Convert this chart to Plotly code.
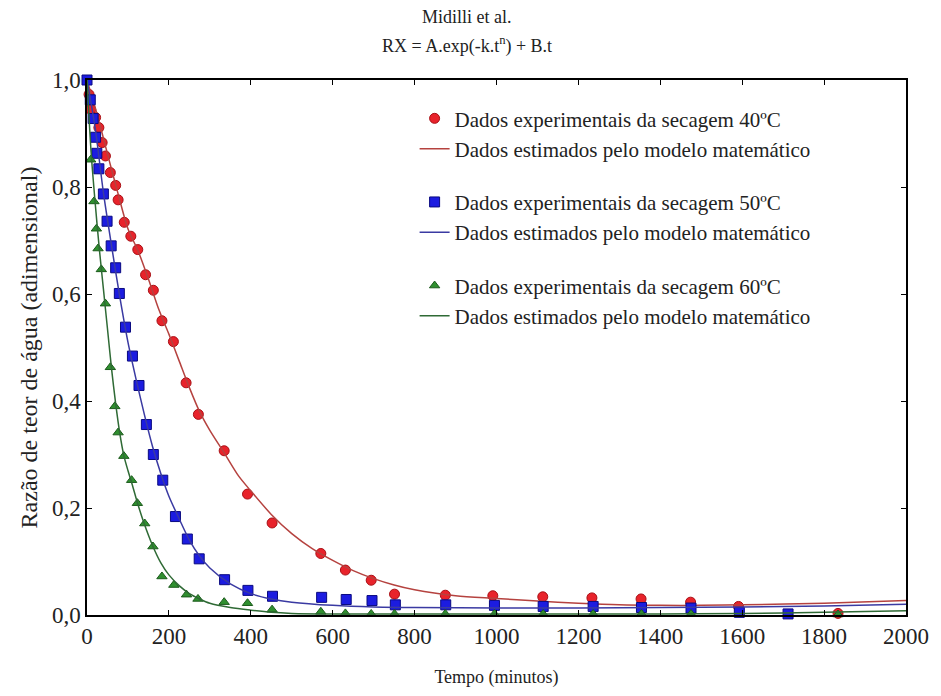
import plotly.graph_objects as go

t40 = [5, 9, 21, 29, 37, 45, 57, 70, 76, 91, 107, 124, 143, 162, 183, 211, 242, 272, 335, 392, 452,
       571, 631, 694, 751, 875, 991, 1113, 1233, 1353, 1474, 1591, 1834]
rx40 = [0.973, 0.945, 0.930, 0.911, 0.883, 0.858, 0.827, 0.803, 0.776, 0.734, 0.708, 0.683, 0.636, 0.607,
        0.550, 0.511, 0.434, 0.375, 0.307, 0.226, 0.172, 0.115, 0.084, 0.065, 0.039, 0.037, 0.036,
        0.034, 0.032, 0.030, 0.024, 0.016, 0.003]

t50 = [0, 8, 15, 21, 24, 29, 40, 49, 59, 70, 79, 94, 111, 127, 145, 162, 185, 216, 245, 274, 336, 393,
       453, 573, 633, 696, 753, 876, 995, 1114, 1236, 1354, 1475, 1593, 1712]
rx50 = [1.0, 0.963, 0.928, 0.893, 0.863, 0.834, 0.787, 0.736, 0.690, 0.649, 0.601, 0.538, 0.484, 0.429,
        0.356, 0.300, 0.252, 0.184, 0.142, 0.105, 0.066, 0.046, 0.035, 0.033, 0.029, 0.027, 0.019,
        0.019, 0.018, 0.016, 0.016, 0.014, 0.013, 0.005, 0.002]

t60 = [9, 17, 23, 27, 35, 45, 57, 68, 76, 90, 109, 123, 141, 161, 183, 212, 243, 271, 335, 392, 452,
       571, 631, 694, 751, 875, 995, 1114, 1236, 1354, 1475, 1834]
rx60 = [0.851, 0.773, 0.722, 0.685, 0.646, 0.582, 0.463, 0.390, 0.341, 0.297, 0.252, 0.209, 0.171,
        0.128, 0.072, 0.056, 0.038, 0.030, 0.024, 0.022, 0.010, 0.006, 0.003, 0.002, 0.002, 0.002,
        0.002, 0.002, 0.002, 0.002, 0.002, 0.001]

# ---- Model curves ----
tm40 = [0, 25, 50, 75, 100, 125, 150, 175, 200, 225, 250, 275, 300, 335, 370, 400, 450, 500, 550, 600,
        650, 700, 750, 800, 900, 1000, 1100, 1200, 1300, 1400, 1500, 1600, 1800, 2000]
rm40 = [1.0, 0.935, 0.862, 0.79, 0.722, 0.68, 0.628, 0.572, 0.525, 0.475, 0.425, 0.38, 0.345, 0.303,
        0.26, 0.232, 0.188, 0.152, 0.124, 0.102, 0.083, 0.068, 0.056, 0.047, 0.036, 0.031, 0.026,
        0.022, 0.019, 0.018, 0.018, 0.019, 0.022, 0.027]

tm50 = [0, 20, 40, 60, 80, 100, 120, 140, 160, 180, 200, 225, 250, 275, 300, 350, 400, 450, 500, 600,
        700, 800, 1000, 1200, 1400, 1600, 1800, 2000]
rm50 = [1.0, 0.91, 0.79, 0.69, 0.595, 0.51, 0.44, 0.375, 0.315, 0.265, 0.222, 0.18, 0.14, 0.11, 0.088,
        0.058, 0.04, 0.03, 0.024, 0.018, 0.015, 0.014, 0.013, 0.013, 0.014, 0.015, 0.017, 0.02]

tm60 = [0, 10, 20, 30, 40, 50, 60, 70, 80, 90, 100, 110, 125, 140, 160, 180, 200, 225, 250, 275, 300,
        350, 400, 450, 500, 600, 1000, 1400, 1600, 1800, 2000]
rm60 = [1.0, 0.865, 0.77, 0.685, 0.61, 0.535, 0.46, 0.395, 0.34, 0.298, 0.27, 0.245, 0.205, 0.17, 0.13,
        0.098, 0.075, 0.055, 0.04, 0.03, 0.022, 0.014, 0.009, 0.005, 0.003, 0.002, 0.002, 0.002, 0.003,
        0.005, 0.008]

x_ticks = [0, 200, 400, 600, 800, 1000, 1200, 1400, 1600, 1800, 2000]
x_ticktext = ["0", "200", "400", "600", "800", "1000", "1200", "1400", "1600", "1800", "2000"]
y_ticks = [0.0, 0.2, 0.4, 0.6, 0.8, 1.0]
y_ticktext = ["0,0", "0,2", "0,4", "0,6", "0,8", "1,0"]

exp_name = "Dados experimentais da secagem {}ºC"
mod_name = "Dados estimados pelo modelo matemático"

FONT = "Liberation Serif"
TXT = "#222222"

fig = go.Figure()

series = [
    ("40", t40, rx40, tm40, rm40, "circle", "#e8232b", "#a81015", "#b5423f", 10),
    ("50", t50, rx50, tm50, rm50, "square", "#1c1ce0", "#0a0a80", "#3a3aa2", 10),
    ("60", t60, rx60, tm60, rm60, "triangle-up", "#2f8f2f", "#1b5a1b", "#2f6a35", 9),
]

for temp, tx, ry, tmx, rmy, sym, col, edge, lcol, msize in series:
    fig.add_trace(go.Scatter(
        x=tx, y=ry, mode="markers", name=exp_name.format(temp), legendgroup=temp,
        marker=dict(symbol=sym, size=msize, color=col, line=dict(color=edge, width=1)),
        cliponaxis=False,
    ))
    fig.add_trace(go.Scatter(
        x=tmx, y=rmy, mode="lines", name=mod_name, legendgroup=temp,
        line=dict(color=lcol, width=1.5, shape="spline", smoothing=0.8),
    ))

fig.update_layout(
    width=941, height=696,
    margin=dict(l=87, r=29, t=80, b=79),
    paper_bgcolor="white", plot_bgcolor="white",
    font=dict(family=FONT, size=17, color=TXT),
    showlegend=True,
    legend=dict(
        x=0.4, y=0.966, xanchor="left", yanchor="top",
        bgcolor="rgba(0,0,0,0)", borderwidth=0,
        font=dict(family=FONT, size=21, color=TXT),
        tracegroupgap=23, itemwidth=30,
    ),
    annotations=[
        dict(text="Midilli et al.", xref="paper", yref="paper", x=0.464, y=1.117,
             xanchor="center", yanchor="middle",
             showarrow=False, font=dict(family=FONT, size=18, color=TXT)),
        dict(text="RX = A.exp(-k.t<sup>n</sup>) + B.t", xref="paper", yref="paper", x=0.464, y=1.066,
             xanchor="center", yanchor="middle",
             showarrow=False, font=dict(family=FONT, size=18, color=TXT)),
    ],
)

fig.update_xaxes(
    range=[0, 2000], tickvals=x_ticks, ticktext=x_ticktext,
    ticks="inside", ticklen=5, tickcolor="black", mirror="ticks",
    showline=True, linecolor="black", linewidth=1.5, showgrid=False, zeroline=False,
    tickfont=dict(family=FONT, size=23, color=TXT),
    title=dict(text="Tempo (minutos)", font=dict(family=FONT, size=18, color=TXT), standoff=22),
)
fig.update_yaxes(
    range=[0, 1.0], tickvals=y_ticks, ticktext=y_ticktext,
    ticks="inside", ticklen=5, tickcolor="black", mirror="ticks",
    showline=True, linecolor="black", linewidth=1.5, showgrid=False, zeroline=False,
    tickfont=dict(family=FONT, size=23, color=TXT),
    title=dict(text="Razão de teor de água (adimensional)", font=dict(family=FONT, size=24, color=TXT),
               standoff=8),
)

fig.write_html("out.html")
